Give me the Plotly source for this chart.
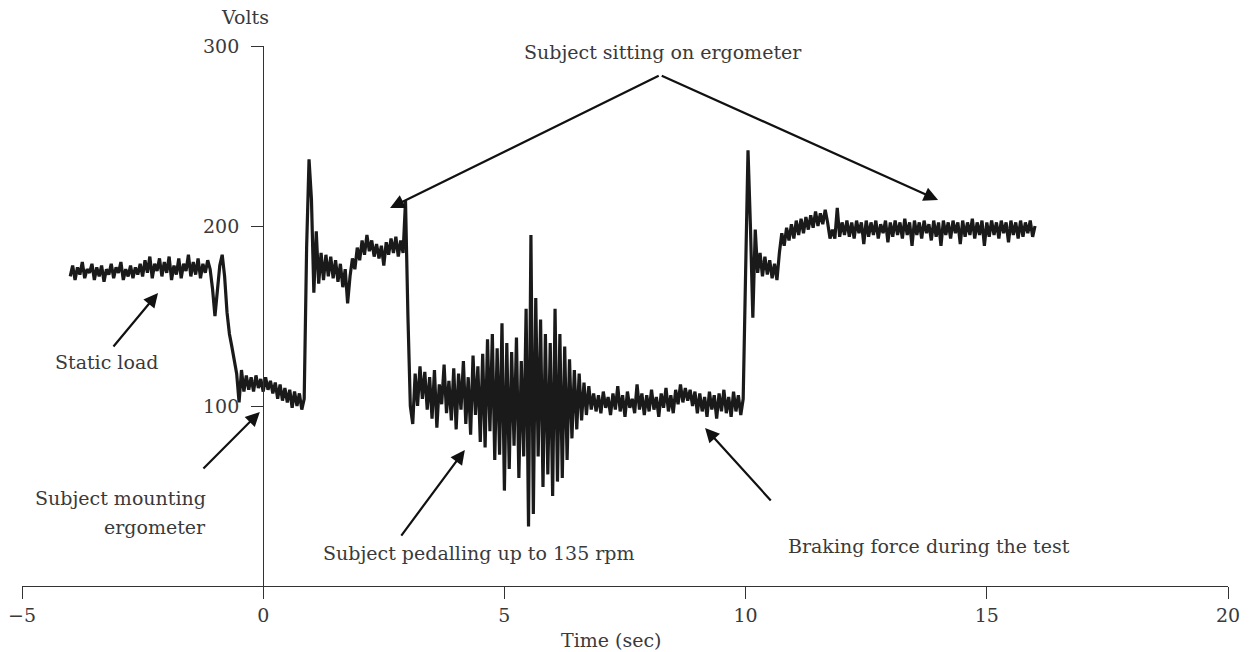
import plotly.graph_objects as go

# ---------------- data (Volts, sampled every 0.05 s) ----------------
STEP = 0.05

static_load_start = -4.00
static_load = [172, 178, 170, 177, 173, 180, 171, 176, 174, 179,
               170, 177, 172, 178, 169, 176, 173, 179, 171, 177,
               174, 180, 170, 176, 172, 178, 171, 177, 173, 179,
               172, 181, 174, 183, 171, 179, 175, 182, 172, 180,
               174, 183, 170, 178, 173, 182, 171, 179, 175, 184,
               172, 180, 173, 182, 171, 179, 174, 181]

mounting_start = -1.10
mounting = [176, 165, 150, 162, 178, 184, 172, 152, 140, 133,
            124, 118, 102, 120, 108, 117, 109, 116, 108, 117,
            110, 115, 108, 116, 109, 114, 107, 113, 104, 112,
            103, 110, 102, 109, 99, 108, 100, 107, 98, 104]

sitting_1_start = 0.90
sitting_1 = [188, 237, 215, 163, 197, 168, 185, 170, 184, 172,
             183, 171, 181, 169, 179, 166, 176, 157, 172, 182,
             176, 188, 181, 192, 184, 195, 186, 192, 183, 190,
             182, 189, 178, 191, 184, 193, 185, 194, 183, 192,
             185, 214, 150]

pedalling_start = 3.05
pedalling = [100, 90, 118, 100, 122, 104, 119, 98, 116, 93,
             120, 88, 112, 101, 123, 96, 114, 92, 121, 87,
             118, 98, 125, 90, 116, 84, 128, 95, 122, 80,
             129, 77, 137, 86, 140, 70, 132, 73, 146, 53,
             135, 65, 130, 78, 138, 60, 125, 72, 154, 33,
             195, 40, 160, 72, 148, 55, 140, 62, 135, 50,
             154, 58, 140, 60, 133, 70, 126, 82, 120, 87,
             118, 92, 113, 95, 111, 98]

braking_start = 6.85
braking = [107, 97, 106, 96, 108, 99, 105, 95, 107, 98,
           111, 97, 106, 94, 108, 99, 104, 96, 112, 98,
           107, 95, 106, 97, 109, 98, 105, 94, 107, 99,
           110, 97, 106, 96, 109, 101, 112, 102, 110, 103,
           109, 100, 108, 96, 107, 97, 105, 94, 108, 98,
           106, 93, 107, 97, 109, 96, 105, 94, 108, 97,
           106, 95, 104]

sitting_2_start = 10.00
sitting_2 = [174, 242, 200, 149, 198, 174, 185, 172, 183, 173,
             181, 171, 179, 170, 185, 196, 189, 199, 192, 201,
             193, 203, 195, 204, 196, 205, 198, 206, 199, 208,
             200, 207, 201, 209, 202, 193, 198, 193, 210, 194,
             202,
             195, 203, 194, 202, 193, 203, 196, 202, 190, 203,
             194, 202, 195, 203, 193, 201, 196, 203, 191, 202,
             194, 203, 195, 202, 193, 204, 195, 202, 189, 203,
             195, 202, 193, 203, 196, 201, 192, 203, 194, 202,
             189, 203, 195, 202, 193, 203, 196, 202, 190, 203,
             194, 202, 195, 204, 193, 202, 195, 203, 189, 202,
             194, 203, 195, 202, 193, 203, 196, 202, 191, 203,
             195, 202, 193, 203, 194, 202, 196, 203, 194, 200]

segments = [(static_load_start, static_load), (mounting_start, mounting),
            (sitting_1_start, sitting_1), (pedalling_start, pedalling),
            (braking_start, braking), (sitting_2_start, sitting_2)]

x_ticks = [-5, 0, 5, 10, 15, 20]
x_tick_text = ["\u22125", "0", "5", "10", "15", "20"]
y_ticks = [100, 200, 300]
y_tick_text = ["100", "200", "300"]

# ---------------- build ----------------
times, volts = [], []
for start, vals in segments:
    for i, v in enumerate(vals):
        times.append(round(start + i * STEP, 4))
        volts.append(v)

FONT = "DejaVu Serif"
TXT = "#3a3a3a"
AX = "#333333"
FS = 19

fig = go.Figure()
fig.add_trace(go.Scatter(x=times, y=volts, mode="lines",
                         line=dict(color="#1a1a1a", width=3.2),
                         hoverinfo="skip", showlegend=False))

fig.update_layout(
    width=1250, height=652,
    margin=dict(l=22, r=22, t=46, b=66, autoexpand=False),
    paper_bgcolor="white", plot_bgcolor="white",
    font=dict(family=FONT, size=FS, color=TXT),
    xaxis=dict(range=[-5, 20], tickvals=x_ticks, ticktext=x_tick_text,
               automargin=False,
               showline=True, linecolor=AX, linewidth=1.3,
               ticks="outside", ticklen=12, tickwidth=1.3, tickcolor=AX,
               showgrid=False, zeroline=False, fixedrange=True,
               tickfont=dict(family=FONT, size=FS, color=TXT)),
    yaxis=dict(range=[0, 300], tickvals=y_ticks, ticktext=y_tick_text,
               automargin=False,
               anchor="free", position=0.2,
               showline=True, linecolor=AX, linewidth=1.3,
               ticks="outside", ticklen=12, tickwidth=1.3, tickcolor=AX,
               ticklabelstandoff=8,
               showgrid=False, zeroline=False, fixedrange=True,
               tickfont=dict(family=FONT, size=FS, color=TXT)),
)

def label(text, x, y, xanchor="center", yref="y"):
    fig.add_annotation(x=x, y=y, xref="x", yref=yref, text=text, showarrow=False,
                       xanchor=xanchor, yanchor="middle",
                       font=dict(family=FONT, size=FS, color=TXT))

def arrow(tail, head):
    fig.add_annotation(x=head[0], y=head[1], ax=tail[0], ay=tail[1],
                       xref="x", yref="y", axref="x", ayref="y",
                       text="", showarrow=True, arrowhead=2, arrowsize=1.3,
                       arrowwidth=2.2, arrowcolor="#111111",
                       standoff=0, startstandoff=0,
                       font=dict(size=1))

label("Volts", -0.37, 1.054, yref="paper")
label("Time (sec)", 7.21, -0.1, yref="paper")
label("Static load", -3.24, 124.4)
label("Subject mounting", -1.14, 48.9, xanchor="right")
label("ergometer", -1.14, 32.8, xanchor="right")
label("Subject pedalling up to 135 rpm", 4.47, 18.3)
label("Braking force during the test", 13.80, 22.2)
label("Subject sitting on ergometer", 8.29, 296.7)

arrow((-3.13, 132.2), (-2.18, 162.8))
arrow((-1.27, 64.4), (-0.07, 96.7))
arrow((2.84, 27.2), (4.18, 75.6))
arrow((10.55, 46.7), (9.16, 87.8))
arrow((8.23, 283.9), (2.63, 210.0))
arrow((8.23, 283.9), (13.99, 214.4))

fig.write_html("out.html")
